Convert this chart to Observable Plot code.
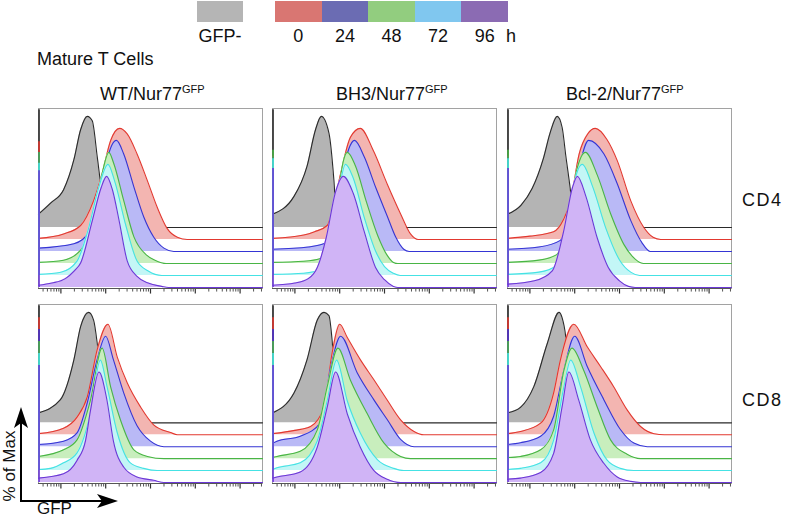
<!DOCTYPE html>
<html><head><meta charset="utf-8">
<script src="https://cdn.jsdelivr.net/npm/d3@7"></script>
<script src="https://cdn.jsdelivr.net/npm/@observablehq/plot@0.6"></script>
<style>
body{margin:0;background:#fff;}
#page{position:relative;width:786px;height:520px;overflow:hidden;font-family:"Liberation Sans",Arial,sans-serif;color:#111;}
.t{position:absolute;white-space:nowrap;line-height:1;}
.sw{position:absolute;}
.panel{position:absolute;}
.sup{font-size:11px;position:relative;top:-7px;}
</style></head><body><div id="page"></div>
<script>
// ---------- data ----------
const seriesNames = ["GFP-", "0", "24", "48", "72", "96"];
const timeLabels = ["0", "24", "48", "72", "96"];
const strains = ["WT", "BH3", "Bcl-2"];
const cellTypes = ["CD4", "CD8"];
// x = log10(GFP), y = % of max ; order: GFP-, 0h, 24h, 48h, 72h, 96h
const wtCD4 = [
  [[0.5,12],[0.77,22],[1.06,34],[1.29,61],[1.44,88],[1.59,100],[1.70,96],[1.81,64],[1.92,30],[2.05,8],[2.2,1],[2.35,0]],
  [[0.5,1],[1.06,5],[1.44,12.6],[1.73,35],[1.92,59],[2.11,89],[2.31,100],[2.48,95],[2.70,77],[2.93,53],[3.15,29],[3.37,10],[3.6,2],[3.82,0]],
  [[0.5,3],[1.29,7],[1.66,19],[1.88,46],[2.03,82],[2.24,100],[2.40,88],[2.63,58],[2.85,31],[3.07,13],[3.30,3],[3.52,0]],
  [[0.5,1],[1.06,3],[1.44,12],[1.73,42],[1.92,81],[2.07,100],[2.18,90],[2.40,57],[2.63,24],[2.9,8],[3.1,3],[3.35,0]],
  [[0.5,1],[1.0,3],[1.36,13],[1.6,40],[1.85,80],[2.05,100],[2.2,85],[2.45,45],[2.7,13],[2.95,4],[3.25,0]],
  [[0.5,2],[0.8,4],[1.1,8],[1.3,15],[1.44,22],[1.7,60],[1.9,90],[2.02,100],[2.15,88],[2.3,60],[2.48,24],[2.7,10],[2.95,4],[3.25,1],[3.4,0]]
];
const bh3CD4 = [
  [[0.5,12],[0.98,28],[1.27,55],[1.46,88],[1.59,100],[1.76,85],[1.87,43],[1.93,8],[2.0,0]],
  [[0.5,1],[1.2,4],[1.44,7],[1.72,12.6],[1.87,32],[2.02,59],[2.24,92],[2.46,100],[2.75,80],[3.06,50],[3.36,23],[3.58,5],[3.75,0]],
  [[0.5,2],[1.3,4],[1.72,8],[1.9,30],[2.05,67],[2.2,92],[2.33,100],[2.55,85],[2.8,58],[3.06,32],[3.25,13],[3.43,2],[3.55,0]],
  [[0.5,1],[1.2,2],[1.6,5],[1.8,20],[1.97,65],[2.08,92],[2.17,100],[2.35,88],[2.6,55],[2.85,25],[3.05,8],[3.2,1],[3.3,0]],
  [[0.5,1],[1.2,2],[1.6,6],[1.82,28],[1.98,75],[2.13,100],[2.3,88],[2.55,52],[2.8,22],[3.0,8],[3.2,2],[3.35,0]],
  [[0.5,2],[1.0,4],[1.3,8],[1.5,18],[1.7,45],[1.9,85],[2.08,100],[2.3,85],[2.55,50],[2.8,18],[3.0,7],[3.2,1],[3.3,0]]
];
const bcl2CD4 = [
  [[0.5,12],[0.8,20],[1.05,35],[1.3,62],[1.45,85],[1.61,100],[1.72,90],[1.8,65],[1.9,35],[1.97,10],[2.05,0]],
  [[0.5,1],[1.0,3],[1.53,7],[1.75,18],[1.91,35],[2.1,77],[2.29,95],[2.46,100],[2.72,90],[2.95,71],[3.25,35],[3.54,11],[3.75,2],[3.92,0]],
  [[0.5,2],[1.2,4],[1.68,10],[1.91,37],[2.1,76],[2.31,100],[2.65,88],[2.95,61],[3.25,28],[3.5,8],[3.69,0]],
  [[0.5,1],[1.2,3],[1.6,8],[1.85,40],[2.05,85],[2.24,100],[2.5,80],[2.8,45],[3.1,17],[3.35,4],[3.54,0]],
  [[0.5,1],[1.2,3],[1.6,9],[1.85,45],[2.0,85],[2.17,100],[2.4,80],[2.7,42],[3.0,14],[3.25,3],[3.45,0]],
  [[0.5,3],[1.1,6],[1.5,15],[1.75,50],[1.95,90],[2.06,100],[2.25,82],[2.5,45],[2.75,18],[3.0,6],[3.2,1],[3.35,0]]
];
const wtCD8 = [
  [[0.5,9],[0.99,21],[1.29,57],[1.44,87],[1.62,100],[1.73,93],[1.84,63],[1.95,30],[2.05,8],[2.15,0]],
  [[0.5,1],[1.06,6],[1.36,16],[1.59,34.5],[1.81,77],[2.05,100],[2.26,70],[2.48,47],[2.78,25],[3.07,9],[3.45,2],[3.6,0]],
  [[0.5,2],[1.06,5],[1.36,12.5],[1.59,40],[1.81,79],[2.0,100],[2.17,79],[2.4,49],[2.7,19],[3.0,5],[3.3,0]],
  [[0.5,2],[1.06,8],[1.36,17],[1.66,53],[1.92,100],[2.11,65],[2.33,35],[2.63,8],[2.93,2],[3.3,0]],
  [[0.5,1],[0.77,2],[1.06,7],[1.36,16],[1.66,52],[1.88,100],[2.03,76],[2.26,34],[2.55,7],[2.85,2],[3.15,0]],
  [[0.5,4],[1.06,8],[1.36,20],[1.55,38],[1.66,65],[1.85,100],[2.03,74],[2.17,38],[2.4,14],[2.7,5],[3.07,2],[3.3,0]]
];
const bh3CD8 = [
  [[0.5,9],[0.98,27],[1.27,57],[1.5,93],[1.65,100],[1.76,97],[1.83,75],[1.9,35],[1.97,8],[2.05,0]],
  [[0.5,1],[1.0,4],[1.35,7.5],[1.65,25],[1.83,74],[2.0,100],[2.17,88],[2.46,68],[2.76,50],[3.06,31.5],[3.36,13.5],[3.66,3],[3.88,0]],
  [[0.5,3],[0.6,5],[1.12,9.5],[1.57,21.6],[1.8,72],[2.02,100],[2.39,67],[2.76,42.6],[3.06,24.6],[3.36,6.6],[3.66,0]],
  [[0.5,1],[0.6,2],[1.12,6.6],[1.5,26],[1.72,65],[1.96,100],[2.24,71],[2.61,41],[2.99,14],[3.36,2],[3.58,0]],
  [[0.5,1],[0.6,2.5],[1.12,7],[1.5,27],[1.72,63],[1.93,100],[2.17,63],[2.46,34],[2.84,10],[3.21,2],[3.43,0]],
  [[0.5,4],[0.6,5],[1.12,9.5],[1.5,32],[1.72,68],[1.91,100],[2.17,62],[2.46,32],[2.76,11],[3.06,3],[3.36,0]]
];
const bcl2CD8 = [
  [[0.5,9],[0.79,14],[1.09,33],[1.39,72],[1.65,100],[1.72,95],[1.8,78],[1.88,40],[1.95,10],[2.05,0]],
  [[0.5,1],[0.79,3],[1.24,10.5],[1.53,38],[1.68,67.6],[1.98,100],[2.28,79.6],[2.58,61.6],[2.87,43.5],[3.17,22.5],[3.47,7.5],[3.77,1],[4.0,0]],
  [[0.5,2],[0.79,3.6],[1.24,9.5],[1.53,27.6],[1.76,69.6],[2.0,100],[2.28,72.6],[2.65,42.6],[3.02,15.6],[3.32,3.3],[3.62,0]],
  [[0.5,1],[0.79,2],[1.24,8],[1.53,26],[1.76,80],[1.94,100],[2.2,80],[2.5,47],[2.8,17],[3.17,4],[3.47,0]],
  [[0.5,1],[0.79,2],[1.24,7],[1.53,27.6],[1.76,76],[1.91,100],[2.13,76],[2.43,34],[2.72,9.6],[3.02,2],[3.32,0]],
  [[0.5,3],[0.79,4],[1.24,9],[1.53,26.4],[1.72,68.8],[1.87,100],[2.09,74.6],[2.35,38.6],[2.65,17.4],[2.95,5],[3.25,1],[3.47,0]]
];
// height (% of max) of the first-channel spike at the left edge of each panel
const edgeCD4WT = [106, 88, 89, 100, 101, 105];
const edgeCD4BH3 = [106, 75, 85, 102, 105, 107];
const edgeCD4Bcl2 = [106, 75, 85, 102, 105, 107];
const edgeCD8 = [106, 106, 106, 106, 106, 106];
const majorDecades = [1, 2, 3, 4, 5];
const minorMultipliers = [2, 3, 4, 5, 6, 7, 8, 9];

// ---------- styling ----------
const lineColors = ["#2a2a2a", "#e2382f", "#3535d4", "#49b545", "#45e2e4", "#6b38d6"];
const fillColors = ["#b4b4b4", "#f3b5b1", "#b9b9f6", "#c8eebd", "#c3f6f6", "#d0b4f6"];
const legendGray = "#b5b5b5";
const legendColors = ["#d97672", "#6b6cb3", "#92cd7f", "#80c7ef", "#8b6bb3"];

const X0 = 0.5, X1 = 5.5, YMAX = 162, STEP = 10.8, BASE = 0.9;
const colLeft = [38, 272, 507], colW = 224;
const rowTop = [108, 304], rowH = [180, 179];
const panels = [
  [wtCD4, bh3CD4, bcl2CD4],
  [wtCD8, bh3CD8, bcl2CD8]
];
const edges = [[edgeCD4WT, edgeCD4BH3, edgeCD4Bcl2], [edgeCD8, edgeCD8, edgeCD8]];

const minorTicks = [];
for (let k = 0; k <= 5; k++) for (const m of minorMultipliers) {
  const v = k + Math.log10(m);
  if (v > X0 && v < X1) minorTicks.push(v);
}

const page = document.getElementById("page");
function addText(html, left, top, size, extra = "") {
  const d = document.createElement("div");
  d.className = "t";
  d.innerHTML = html;
  d.style.cssText += `left:${left}px;top:${top}px;font-size:${size}px;${extra}`;
  page.appendChild(d);
  return d;
}

// ---------- legend ----------
{
  const g = document.createElement("div");
  g.className = "sw";
  g.style.cssText = `left:197px;top:1px;width:46px;height:21px;background:${legendGray}`;
  page.appendChild(g);
  const segW = 46.6;
  legendColors.forEach((c, i) => {
    const s = document.createElement("div");
    s.className = "sw";
    s.style.cssText = `left:${275 + i * segW}px;top:1px;width:${segW + 0.5}px;height:21px;background:${c}`;
    page.appendChild(s);
  });
  addText(seriesNames[0], 220, 27, 18, "transform:translateX(-50%)");
  timeLabels.forEach((t, i) => addText(t, 275 + (i + 0.5) * segW, 27, 18, "transform:translateX(-50%)"));
  addText("h", 506, 27, 18);
}
addText("Mature T Cells", 37, 50, 18);
const titleLefts = [100, 336, 566];
strains.forEach((s, i) => addText(`${s}/Nur77<span class="sup">GFP</span>`, titleLefts[i], 85, 18));
addText(cellTypes[0], 742, 191, 18, "letter-spacing:1.5px");
addText(cellTypes[1], 742, 391, 18, "letter-spacing:1.5px");

// ---------- panels ----------
panels.forEach((row, r) => row.forEach((series, c) => {
  const marks = [Plot.frame({stroke: "#a2a2a2"})];
  series.forEach((pts, i) => {
    const off = BASE + (5 - i) * STEP;
    const rows = pts.map(([x, p]) => ({x, y1: off, y2: off + p}));
    rows.push({x: X1, y1: off, y2: off});
    marks.push(Plot.areaY(rows, {x: "x", y1: "y1", y2: "y2", fill: fillColors[i], curve: "monotone-x"}));
    marks.push(Plot.lineY(rows, {x: "x", y: "y2", stroke: lineColors[i], strokeWidth: 1.1, curve: "monotone-x"}));
  });
  edges[r][c].forEach((h, i) => {
    const off = BASE + (5 - i) * STEP;
    marks.push(Plot.ruleX([{x: X0 + 0.012, y1: off, y2: Math.min(YMAX, off + h)}], {x: "x", y1: "y1", y2: "y2", stroke: lineColors[i], strokeWidth: 1.6}));
  });
  marks.push(Plot.ruleX(minorTicks, {x: d => d, y1: 0, y2: -3.2, stroke: "#555", strokeWidth: 1}));
  marks.push(Plot.ruleX(majorDecades, {x: d => d, y1: 0, y2: -5, stroke: "#333", strokeWidth: 1.2}));
  marks.push(Plot.ruleY([0], {stroke: "#555", strokeWidth: 1.2}));
  const svg = Plot.plot({
    width: colW + 2, height: rowH[r] + 10,
    marginLeft: 1, marginRight: 1, marginTop: 1, marginBottom: 9,
    x: {domain: [X0, X1], axis: null},
    y: {domain: [0, YMAX], axis: null},
    marks
  });
  svg.classList.add("panel");
  svg.style.left = (colLeft[c] - 1) + "px";
  svg.style.top = (rowTop[r] - 1) + "px";
  svg.style.overflow = "visible";
  page.appendChild(svg);
}));

// ---------- axis arrows ----------
{
  const ns = "http://www.w3.org/2000/svg";
  const a = document.createElementNS(ns, "svg");
  a.setAttribute("width", 786); a.setAttribute("height", 520);
  a.style.cssText = "position:absolute;left:0;top:0;pointer-events:none";
  a.innerHTML = `
    <path d="M21,502 V421 M20,501 H103" stroke="#000" stroke-width="2" fill="none"/>
    <path d="M21,407 L28,428 L21,423 L14,428 Z" fill="#000"/>
    <path d="M118,501 L97,494 L102,501 L97,508 Z" fill="#000"/>`;
  page.appendChild(a);
  addText("% of Max", 9, 466, 17, "transform:translate(-50%,-50%) rotate(-90deg)");
  addText("GFP", 37, 500, 17);
}
</script></body></html>
